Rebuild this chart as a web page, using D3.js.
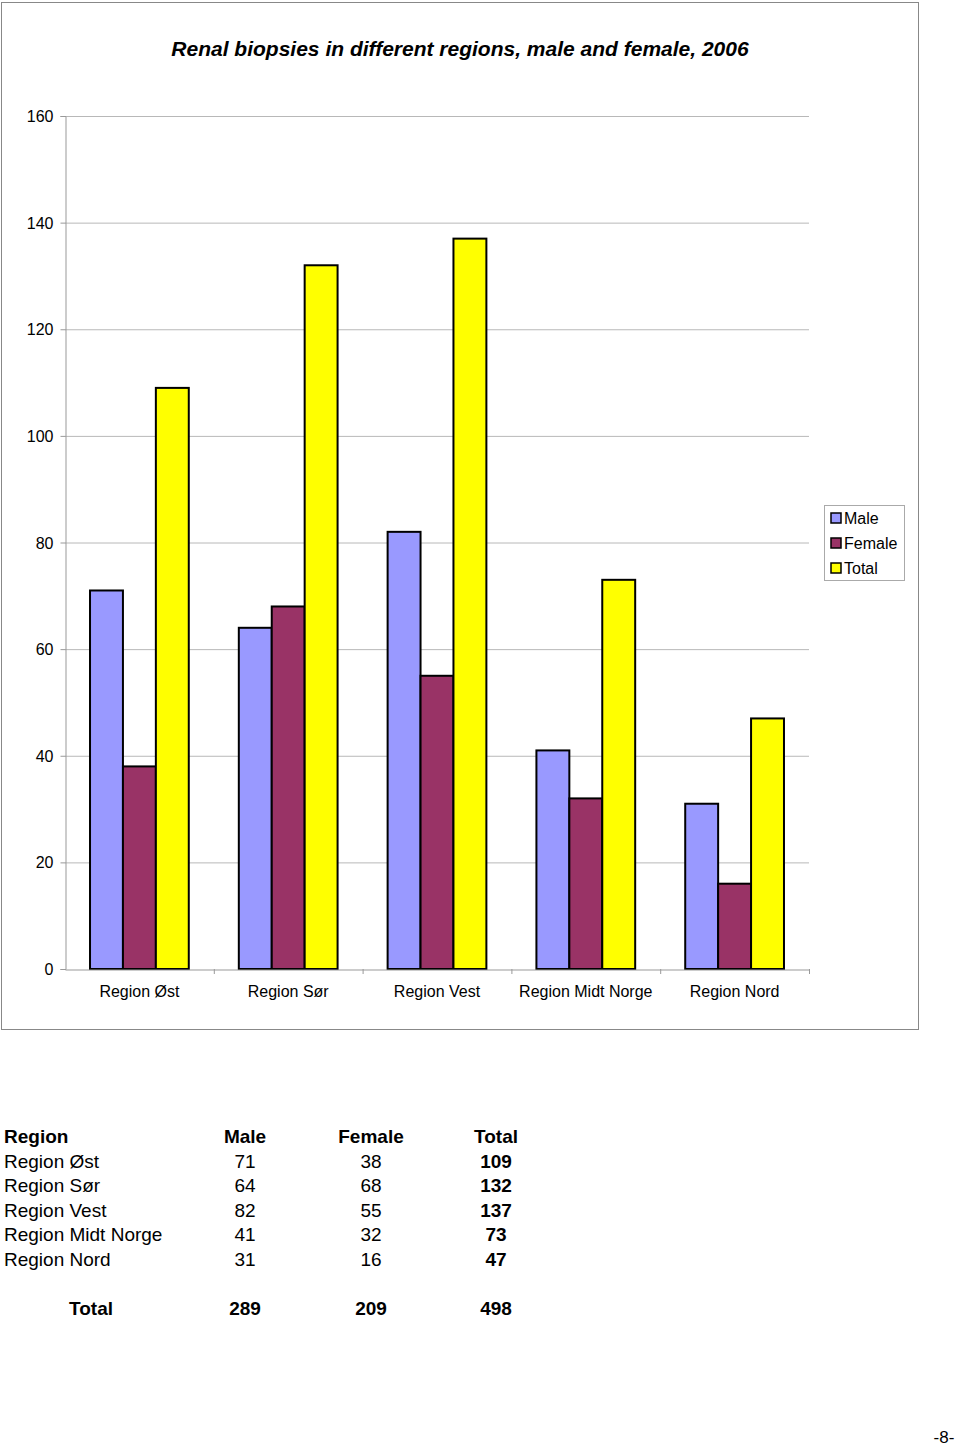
<!DOCTYPE html>
<html><head><meta charset="utf-8">
<script src="https://cdn.jsdelivr.net/npm/d3@7"></script>
<style>
body{margin:0;background:#fff;}
text{font-family:"Liberation Sans",Arial,sans-serif;}
</style></head>
<body>
<svg id="c" width="960" height="1448"></svg>
<script>
const categories=["Region Øst","Region Sør","Region Vest","Region Midt Norge","Region Nord"];
const seriesNames=["Male","Female","Total"];
const male=[71,64,82,41,31];
const female=[38,68,55,32,16];
const total=[109,132,137,73,47];
const colors=["#9999ff","#993366","#ffff00"];
const yTicks=[0,20,40,60,80,100,120,140,160];
const grandTotals=[289,209,498];

const svg=d3.select("#c");
svg.append("rect").attr("x",1.5).attr("y",2.5).attr("width",917).attr("height",1027)
  .attr("fill","#fff").attr("stroke","#888").attr("stroke-width",1);

svg.append("text").attr("x",460).attr("y",56).attr("text-anchor","middle")
  .style("font-family","'Liberation Sans Narrow','Arial Narrow',sans-serif")
  .style("font-weight","bold").style("font-style","italic").style("font-size","21px")
  .text("Renal biopsies in different regions, male and female, 2006");

const L=65,R=809,T=116,B=969;
const x=d3.scaleBand().domain(categories).range([L,R]);
const y=d3.scaleLinear().domain([0,160]).range([B,T]);
const xs=d3.scaleBand().domain(seriesNames).range([0,x.bandwidth()]).paddingOuter(0.76).paddingInner(0);

const g=svg.append("g");
g.selectAll("line.grid").data(yTicks.filter(d=>d>0)).join("line")
  .attr("x1",L).attr("x2",R).attr("y1",d=>y(d)+0.5).attr("y2",d=>y(d)+0.5)
  .attr("stroke","#b8b8b8").attr("stroke-width",1);

const yAxis=d3.axisLeft(y).tickValues(yTicks).tickSize(5).tickPadding(7);
const ya=g.append("g").attr("transform",`translate(${L+0.5},0)`).call(yAxis);
ya.select(".domain").attr("stroke","#999");
ya.selectAll(".tick line").attr("stroke","#999");
ya.selectAll(".tick text").style("font-size","16px").attr("fill","#000").attr("dy","0.35em");

const series=[male,female,total];
series.forEach((vals,si)=>{
  g.selectAll("rect.s"+si).data(categories).join("rect")
   .attr("x",(c)=>x(c)+xs(seriesNames[si]))
   .attr("y",(c,i)=>y(vals[i]))
   .attr("width",xs.bandwidth())
   .attr("height",(c,i)=>B-y(vals[i]))
   .attr("fill",colors[si]).attr("stroke","#000").attr("stroke-width",2);
});

const xAxis=d3.axisBottom(x).tickSize(0).tickPadding(16);
const xa=g.append("g").attr("transform",`translate(0,${B+0.5})`).call(xAxis);
xa.select(".domain").attr("stroke","#999");
xa.selectAll(".tick text").style("font-size","16px").attr("fill","#000");
g.selectAll("line.xt").data(categories.slice(1).concat(["end"])).join("line")
  .attr("x1",(c)=>c==="end"?R+0.5:x(c)+0.5).attr("x2",(c)=>c==="end"?R+0.5:x(c)+0.5)
  .attr("y1",B).attr("y2",B+5).attr("stroke","#999");

// legend
const lg=svg.append("g").attr("transform","translate(824,505)");
lg.append("rect").attr("x",0.5).attr("y",0.5).attr("width",80).attr("height",75)
  .attr("fill","#fff").attr("stroke","#aaa");
seriesNames.forEach((s,i)=>{
  lg.append("rect").attr("x",7).attr("y",8+i*25).attr("width",10).attr("height",10)
    .attr("fill",colors[i]).attr("stroke","#000").attr("stroke-width",1.5);
  lg.append("text").attr("x",20).attr("y",19+i*25).style("font-size","16px").text(s);
});

// table
const tb=svg.append("g");
const rowY=d3.scalePoint().domain(d3.range(6)).range([1143,1266]);
const colX=[245,371,496];
tb.append("text").attr("x",4).attr("y",rowY(0)).style("font-size","19px").style("font-weight","bold").text("Region");
["Male","Female","Total"].forEach((h,i)=>tb.append("text").attr("x",colX[i]).attr("y",rowY(0))
  .attr("text-anchor","middle").style("font-size","19px").style("font-weight","bold").text(h));
categories.forEach((c,i)=>{
  const yy=rowY(i+1);
  tb.append("text").attr("x",4).attr("y",yy).style("font-size","19px").text(c);
  tb.append("text").attr("x",colX[0]).attr("y",yy).attr("text-anchor","middle").style("font-size","19px").text(male[i]);
  tb.append("text").attr("x",colX[1]).attr("y",yy).attr("text-anchor","middle").style("font-size","19px").text(female[i]);
  tb.append("text").attr("x",colX[2]).attr("y",yy).attr("text-anchor","middle").style("font-size","19px").style("font-weight","bold").text(total[i]);
});
tb.append("text").attr("x",91).attr("y",1315).attr("text-anchor","middle").style("font-size","19px").style("font-weight","bold").text("Total");
grandTotals.forEach((v,i)=>tb.append("text").attr("x",colX[i]).attr("y",1315).attr("text-anchor","middle")
  .style("font-size","19px").style("font-weight","bold").text(v));

svg.append("text").attr("x",944).attr("y",1443).attr("text-anchor","middle").style("font-size","17px").text("-8-");
</script>
</body></html>
